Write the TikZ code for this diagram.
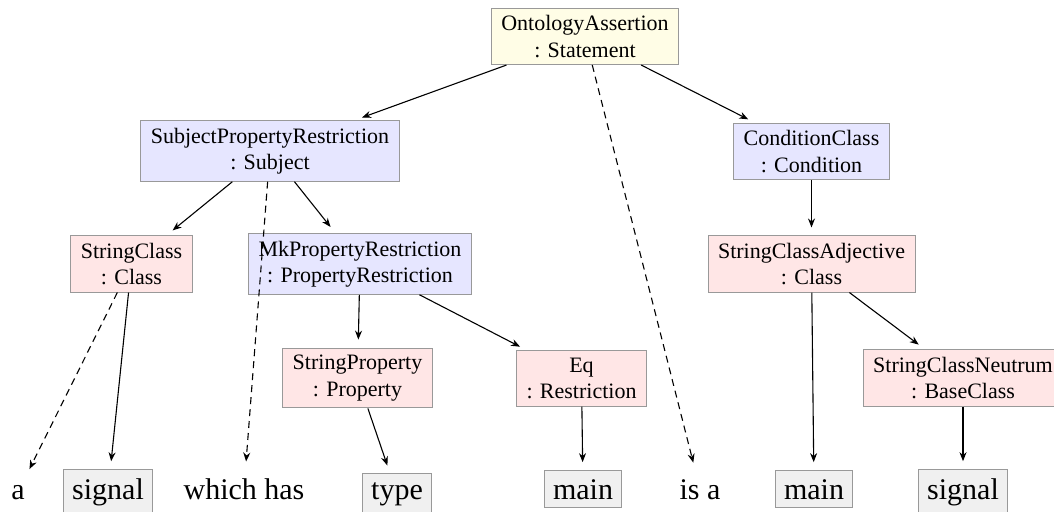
\documentclass[tikz,border=0pt]{standalone}
\usepackage{fontspec}
\setmainfont{Liberation Serif}
\usetikzlibrary{arrows.meta}
\definecolor{yel}{HTML}{FFFDE6}
\definecolor{lav}{HTML}{E6E6FF}
\definecolor{pnk}{HTML}{FFE6E6}
\definecolor{gry}{HTML}{F0F0F0}
\definecolor{bord}{HTML}{999999}
\begin{document}
\begin{tikzpicture}[x=1pt,y=-1pt,
  box/.style={draw=bord, line width=1pt, align=center, inner xsep=10pt, inner ysep=7pt, font=\fontsize{22}{26.5}\selectfont},
  ya/.style={box, fill=yel}, bl/.style={box, fill=lav}, rd/.style={box, fill=pnk},
  word/.style={inner sep=8.5pt, font=\fontsize{30}{36}\selectfont, anchor=base},
  lex/.style={word, draw=bord, line width=1pt, fill=gry},
  edge/.style={line width=1.1pt, -{Stealth[length=9pt,width=7pt]}, shorten >=8pt},
  dedge/.style={edge, dash pattern=on 7pt off 5pt}]
\useasboundingbox (0,0) rectangle (1054,511);
\clip (0,0) rectangle (1054,511);
\node[ya] (oa) at (585,36.5) {OntologyAssertion\\: Statement};
\node[bl] (spr) at (270,151) {SubjectPropertyRestriction\\: Subject};
\node[bl] (cc) at (811.5,151.5) {ConditionClass\\: Condition};
\node[rd] (sc) at (131.5,264) {StringClass\\: Class};
\node[bl] (mpr) at (360,264) {MkPropertyRestriction\\: PropertyRestriction};
\node[rd] (sca) at (811.5,264) {StringClassAdjective\\: Class};
\node[rd] (sp) at (357.5,378) {StringProperty\\: Property};
\node[rd] (eq) at (581.5,378.5) {Eq\\: Restriction};
\node[rd] (scn) at (963,378) {StringClassNeutrum\\: BaseClass};
\node[word] (wa) at (18,499) {a};
\node[lex] (w1) at (108,499) {signal};
\node[word] (w2) at (244,499) {which has};
\node[lex] (w3) at (397,499) {type};
\node[lex] (w4) at (583,499) {main};
\node[word] (w5) at (700,499) {is a};
\node[lex] (w6) at (814,499) {main};
\node[lex] (w7) at (963,499) {signal};
\draw[edge] (oa) -- (spr);
\draw[edge] (oa) -- (cc);
\draw[dedge] (oa) -- (w5);
\draw[edge] (spr) -- (sc);
\draw[dedge] (spr) -- (w2);
\draw[edge] (spr) -- (mpr);
\draw[dedge] (sc) -- (wa);
\draw[edge] (sc) -- (w1);
\draw[edge] (mpr) -- (sp);
\draw[edge] (mpr) -- (eq);
\draw[edge] (sp) -- (w3);
\draw[edge] (eq) -- (w4);
\draw[edge] (cc) -- (sca);
\draw[edge] (sca) -- (w6);
\draw[edge] (sca) -- (scn);
\draw[edge] (scn) -- (w7);
\end{tikzpicture}
\end{document}
